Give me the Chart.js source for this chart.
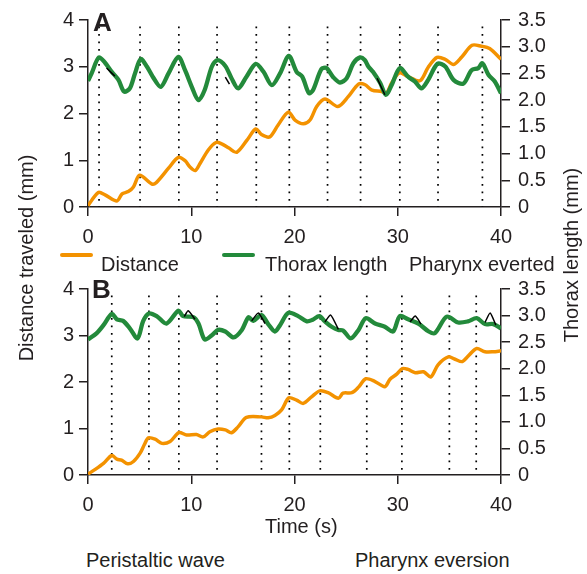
<!DOCTYPE html>
<html lang="en">
<head>
<meta charset="UTF-8">
<title>Distance and thorax length</title>
<script src="https://cdn.jsdelivr.net/npm/chart.js"></script>
<style>
    body { margin: 0; background: #fff; }
    #fig { position: relative; width: 587px; height: 574px; overflow: hidden; }
    canvas { position: absolute; left: 0; }
    .lbl {
        position: absolute;
        white-space: nowrap;
        font: 20px "Liberation Sans", Arial, sans-serif;
        color: #231f20;
        line-height: 20px;
    }
    .panel { font-weight: bold; font-size: 26px; line-height: 26px; }
    .key { position: absolute; height: 4px; width: 33px; border-radius: 2px; }
</style>
</head>
<body>
<div id="fig">
    <canvas id="chartA" width="587" height="250" style="top:0px"></canvas>
    <canvas id="chartB" width="587" height="260" style="top:269px"></canvas>

    <div class="lbl panel" style="left:93px; top:9px">A</div>
    <div class="lbl panel" style="left:92px; top:276px">B</div>

    <div class="lbl" style="left:-84px; top:248px; width:220px; text-align:center; transform:rotate(-90deg)">Distance traveled (mm)</div>
    <div class="lbl" style="left:471px; top:245px; width:200px; text-align:center; transform:rotate(-90deg)">Thorax length (mm)</div>

    <div class="key" style="left:60px; top:253px; background:#F39200"></div>
    <div class="lbl" style="left:101px; top:254px">Distance</div>
    <div class="key" style="left:222px; top:253px; background:#238A3B"></div>
    <div class="lbl" style="left:265px; top:254px">Thorax length</div>
    <div class="lbl" style="left:409px; top:254px">Pharynx everted</div>

    <div class="lbl" style="left:265px; top:516px">Time (s)</div>
    <div class="lbl" style="left:86px; top:550px">Peristaltic wave</div>
    <div class="lbl" style="left:355px; top:550px">Pharynx eversion</div>
</div>

<script>
// ---- panel A ----
var aDistT = [0, 1.0, 1.65, 2.8, 3.3, 3.9, 4.4, 5.0, 6.2, 6.6, 7.8, 8.75, 9.4, 9.9, 10.4, 10.85, 11.65, 12.4, 12.95, 13.65,
    14.4, 15.4, 16.25, 16.8, 17.6, 18.4, 19.4, 20.05, 20.85, 21.5, 22.15, 22.95, 24.2, 25.2, 26.2, 26.8, 27.5, 28.45, 28.9,
    29.4, 30.15, 31.0, 32.15, 32.95, 33.8, 34.6, 35.4, 36.2, 37.2, 38.1, 38.9, 40];
var aDistV = [0.03, 0.31, 0.26, 0.13, 0.28, 0.33, 0.43, 0.68, 0.49, 0.52, 0.83, 1.06, 0.99, 0.85, 0.78, 0.93, 1.22, 1.38, 1.35, 1.26,
    1.17, 1.43, 1.67, 1.55, 1.50, 1.75, 2.03, 1.86, 1.78, 1.86, 2.15, 2.31, 2.15, 2.36, 2.63, 2.62, 2.50, 2.47, 2.43,
    2.65, 2.87, 2.79, 2.70, 2.99, 3.20, 3.16, 3.05, 3.21, 3.46, 3.44, 3.39, 3.16];

var aThorT = [0, 0.35, 1.05, 1.65, 2.3, 2.95, 3.5, 4.05, 4.55, 5.1, 5.7, 6.3, 7.05, 7.8, 8.75, 9.4, 10.05, 10.7, 11.3, 12.0,
    12.55, 13.3, 13.9, 14.55, 15.35, 16.25, 17.0, 17.8, 18.6, 19.45, 20.2, 20.75, 21.4, 21.8, 22.6, 23.1, 23.75, 24.4, 25.05,
    25.7, 26.35, 26.8, 27.15, 27.6, 28.3, 28.85, 29.4, 30.2, 31.0, 31.65, 32.3, 32.95, 33.85, 34.6, 35.4, 36.35, 37.15, 37.8,
    38.2, 38.8, 39.4, 40];
var aThorV = [2.36, 2.50, 2.80, 2.70, 2.53, 2.38, 2.16, 2.22, 2.50, 2.77, 2.63, 2.43, 2.25, 2.50, 2.81, 2.56, 2.25, 2.00, 2.19, 2.63,
    2.75, 2.64, 2.41, 2.22, 2.44, 2.68, 2.53, 2.28, 2.50, 2.83, 2.53, 2.44, 2.13, 2.19, 2.58, 2.60, 2.43, 2.33, 2.41,
    2.69, 2.80, 2.75, 2.63, 2.53, 2.32, 2.10, 2.28, 2.60, 2.44, 2.35, 2.22, 2.38, 2.68, 2.63, 2.38, 2.31, 2.56, 2.60,
    2.69, 2.47, 2.35, 2.13];

var aPharT = [1.8, 2.6, 2.7, 13.3, 13.7, 13.8, 28.0, 28.75];
var aPharV = [2.60, 2.45, null, 2.43, 2.30, null, 2.41, 2.10];

var aWaves = [1.07, 5.04, 8.8, 12.5, 16.3, 19.5, 23.2, 26.4, 30.2, 33.9, 38.2];

// ---- panel B ----
var bDistT = [0, 0.7, 1.5, 2.3, 2.8, 3.25, 3.85, 4.4, 5.05, 5.45, 5.85, 6.5, 7.15, 7.95, 8.8, 9.55, 10.5, 11.15, 11.8, 12.6,
    13.3, 13.9, 14.55, 15.35, 16.8, 17.45, 18.1, 18.75, 19.45, 20.2, 20.85, 21.65, 22.45, 23.25, 24.25, 24.7, 25.55, 26.2,
    26.9, 27.8, 28.75, 29.25, 29.9, 30.45, 31.0, 31.7, 32.5, 33.2, 33.9, 34.9, 35.55, 36.25, 37.0, 37.65, 38.45, 39.25, 40];
var bDistV = [0.02, 0.12, 0.25, 0.42, 0.34, 0.32, 0.24, 0.29, 0.47, 0.65, 0.80, 0.77, 0.68, 0.72, 0.91, 0.86, 0.87, 0.82, 0.93, 0.99,
    0.97, 0.91, 1.04, 1.24, 1.25, 1.23, 1.28, 1.40, 1.66, 1.61, 1.54, 1.68, 1.81, 1.77, 1.65, 1.76, 1.77, 1.89,
    2.07, 2.01, 1.90, 2.06, 2.17, 2.29, 2.27, 2.20, 2.22, 2.11, 2.37, 2.54, 2.49, 2.44, 2.60, 2.72, 2.65, 2.65, 2.67];

var bThorT = [0, 0.85, 1.5, 2.3, 2.8, 3.4, 4.05, 4.8, 5.35, 5.9, 6.65, 7.6, 8.75, 9.2, 10.2, 10.7, 11.3, 12.0, 12.6, 13.3,
    14.1, 14.9, 15.55, 16.0, 16.8, 17.45, 18.1, 18.6, 19.4, 20.35, 21.2, 21.75, 22.4, 22.95, 23.6, 24.25, 24.7, 25.45, 26.2,
    26.9, 27.8, 28.75, 29.55, 30.2, 31.0, 32.0, 33.0, 33.6, 34.75, 35.85, 36.8, 37.65, 38.45, 39.25, 40];
var bThorV = [2.55, 2.67, 2.82, 3.03, 2.93, 2.90, 2.76, 2.57, 2.90, 3.04, 2.99, 2.85, 3.09, 2.99, 2.97, 2.85, 2.55, 2.63, 2.73, 2.70,
    2.59, 2.73, 2.97, 2.90, 3.01, 2.84, 2.70, 2.82, 3.05, 2.99, 2.89, 2.92, 2.99, 2.89, 2.79, 2.73, 2.72, 2.57, 2.73,
    2.95, 2.85, 2.79, 2.70, 2.99, 2.93, 2.85, 2.70, 2.67, 2.98, 2.87, 2.89, 2.95, 2.84, 2.84, 2.76];

var bPharT = [9.33, 9.7, 10.36, 10.4, 15.85, 16.5, 17.15, 17.2, 22.95, 23.5, 24.25, 24.3, 31.2, 31.7, 32.25, 32.3, 38.45, 38.95, 39.5];
var bPharV = [2.98, 3.09, 2.93, null, 2.90, 3.05, 2.85, null, 2.88, 3.01, 2.74, null, 2.88, 2.99, 2.84, null, 2.87, 3.05, 2.82];

var bWaves = [2.3, 5.9, 8.8, 12.5, 16.8, 19.5, 22.5, 27.0, 30.4, 35.0, 37.6];

var xTicks = [0, 10, 20, 30, 40];
var waveTop = 3.86;

var ORANGE = '#F39200';
var GREEN = '#238A3B';
var INK = '#231f20';
var FONT = { family: '"Liberation Sans", Arial, sans-serif', size: 20 };

function pares(ts, vs) {
    return ts.map(function (t, i) { return { x: t, y: vs[i] }; });
}

// plotBottom: y of the x axis inside the canvas
function hacerGrafico(id, plotBottom, distT, distV, thorT, thorV, pharT, pharV, waves) {
    var canvas = document.getElementById(id);
    var datasets = [
        { data: pares(pharT, pharV), yAxisID: 'y2', borderColor: '#000', borderWidth: 1.5, tension: 0.2, spanGaps: false },
        { data: pares(thorT, thorV), yAxisID: 'y2', borderColor: GREEN, borderWidth: 4.3, tension: 0.3 },
        { data: pares(distT, distV), yAxisID: 'y', borderColor: ORANGE, borderWidth: 3.5, tension: 0.3 }
    ];
    waves.forEach(function (t) {
        datasets.push({
            data: [{ x: t, y: waveTop }, { x: t, y: 0 }],
            yAxisID: 'y', borderColor: '#000', borderWidth: 1.7, borderDash: [1.7, 5.8]
        });
    });

    var eje = { display: true, color: INK, width: 1.5 };
    var marcas = { drawOnChartArea: false, drawTicks: true, tickLength: 9, color: INK, lineWidth: 1.5 };

    return new Chart(canvas, {
        type: 'line',
        data: { datasets: datasets },
        options: {
            responsive: false,
            animation: false,
            layout: { padding: { top: 20, left: 0, right: 0, bottom: 0 } },
            elements: { point: { radius: 0 }, line: { fill: false } },
            plugins: { legend: { display: false }, tooltip: { enabled: false } },
            scales: {
                x: {
                    type: 'linear', min: 0, max: 40,
                    afterBuildTicks: function (s) { s.ticks = xTicks.map(function (v) { return { value: v }; }); },
                    afterFit: function (s) { s.height = canvas.height - plotBottom; },
                    border: eje, grid: marcas,
                    ticks: { color: INK, font: FONT, padding: 9, maxRotation: 0, autoSkip: false }
                },
                y: {
                    position: 'left', min: 0, max: 4,
                    afterFit: function (s) { s.width = 88; },
                    border: eje, grid: marcas,
                    ticks: { stepSize: 1, color: INK, font: FONT, padding: 5, autoSkip: false }
                },
                y2: {
                    position: 'right', min: 0, max: 3.5,
                    afterFit: function (s) { s.width = 86; },
                    border: eje, grid: marcas,
                    ticks: {
                        stepSize: 0.5, color: INK, font: FONT, padding: 8, autoSkip: false,
                        callback: function (v) { return v === 0 ? '0' : v.toFixed(1); }
                    }
                }
            }
        }
    });
}

var graficoA = hacerGrafico('chartA', 207, aDistT, aDistV, aThorT, aThorV, aPharT, aPharV, aWaves);
var graficoB = hacerGrafico('chartB', 206, bDistT, bDistV, bThorT, bThorV, bPharT, bPharV, bWaves);
</script>
</body>
</html>
